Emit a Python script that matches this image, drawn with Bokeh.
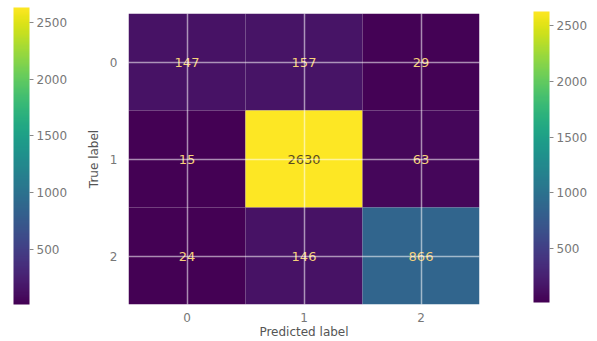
from bokeh.plotting import figure
from bokeh.models import (ColumnDataSource, LinearColorMapper, ColorBar, FixedTicker,
                          Range1d)
from bokeh.palettes import Viridis256
from bokeh.transform import transform
from bokeh.core.properties import value
from bokeh.embed import file_html
from bokeh.resources import INLINE

# ---- data ----
class_labels = ["0", "1", "2"]
row_true_0 = [147, 157, 29]
row_true_1 = [15, 2630, 63]
row_true_2 = [24, 146, 866]
colorbar_ticks = [500, 1000, 1500, 2000, 2500]

rows = [row_true_0, row_true_1, row_true_2]
xs, ys, vals, txt, tcol = [], [], [], [], []
vmin = min(min(r) for r in rows)
vmax = max(max(r) for r in rows)
thresh = (vmin + vmax) / 2
for i, r in enumerate(rows):
    for j, v in enumerate(r):
        xs.append(j)
        ys.append(i)
        vals.append(v)
        txt.append(str(v))
        tcol.append("#5a4a20" if v >= thresh else "#f6d27a")

src = ColumnDataSource(dict(x=xs, y=ys, v=vals, t=txt, c=tcol))
mapper = LinearColorMapper(palette=Viridis256, low=vmin, high=vmax)

W, H = 597, 341
FL, FR, FT, FB = 128, 479, 13, 305

p = figure(width=W, height=H, output_backend="svg", toolbar_location=None,
           x_range=Range1d(-0.5, 2.5), y_range=Range1d(2.5, -0.5),
           min_border_left=FL, min_border_right=W - FR,
           min_border_top=FT, min_border_bottom=H - FB)
p.outline_line_color = None
p.background_fill_color = "white"

p.rect(x="x", y="y", width=1, height=1, source=src,
       fill_color=transform("v", mapper), line_color=None)
p.text(x="x", y="y", text="t", source=src, text_color="c",
       text_align="center", text_baseline="middle",
       text_font=value("DejaVu Sans"), text_font_size="13px")

for ax in (p.xaxis[0], p.yaxis[0]):
    ax.ticker = FixedTicker(ticks=[0, 1, 2])
    ax.major_label_overrides = {0: class_labels[0], 1: class_labels[1], 2: class_labels[2]}
    ax.axis_line_color = None
    ax.major_tick_line_color = None
    ax.minor_tick_line_color = None
    ax.major_tick_in = 0
    ax.major_tick_out = 0
    ax.minor_tick_in = 0
    ax.minor_tick_out = 0
    ax.major_label_text_font = "DejaVu Sans"
    ax.major_label_text_font_size = "12px"
    ax.major_label_text_color = "#777777"
    ax.axis_label_text_font = "DejaVu Sans"
    ax.axis_label_text_font_size = "12px"
    ax.axis_label_text_font_style = "normal"
    ax.axis_label_text_color = "#555555"

p.xaxis.axis_label = "Predicted label"
p.yaxis.axis_label = "True label"
p.xaxis.major_label_standoff = 8
p.xaxis.axis_label_standoff = 0
p.yaxis.major_label_standoff = 11
p.yaxis.axis_label_standoff = 6
p.yaxis.major_label_orientation = "horizontal"

for g in (p.xgrid[0], p.ygrid[0]):
    g.ticker = FixedTicker(ticks=[0, 1, 2])
    g.grid_line_color = "white"
    g.grid_line_alpha = 0.55
    g.grid_line_width = 1.5
    g.level = "overlay"


def make_cb(x_off, y_off, h):
    cb = ColorBar(color_mapper=mapper, ticker=FixedTicker(ticks=colorbar_ticks),
                  width=16, height=h, padding=0, margin=0,
                  location=(x_off, y_off),
                  major_label_text_font="DejaVu Sans",
                  major_label_text_font_size="12px",
                  major_label_text_color="#777777",
                  major_tick_in=0, major_tick_out=4,
                  major_tick_line_color="#888888",
                  label_standoff=3,
                  bar_line_color=None, border_line_color=None,
                  background_fill_alpha=0)
    return cb


p.add_layout(make_cb(13 - FL, FB - 305, 297), "center")
p.add_layout(make_cb(533 - FL, FB - 303, 291), "center")

open("out.html", "w").write(file_html(p, INLINE))
